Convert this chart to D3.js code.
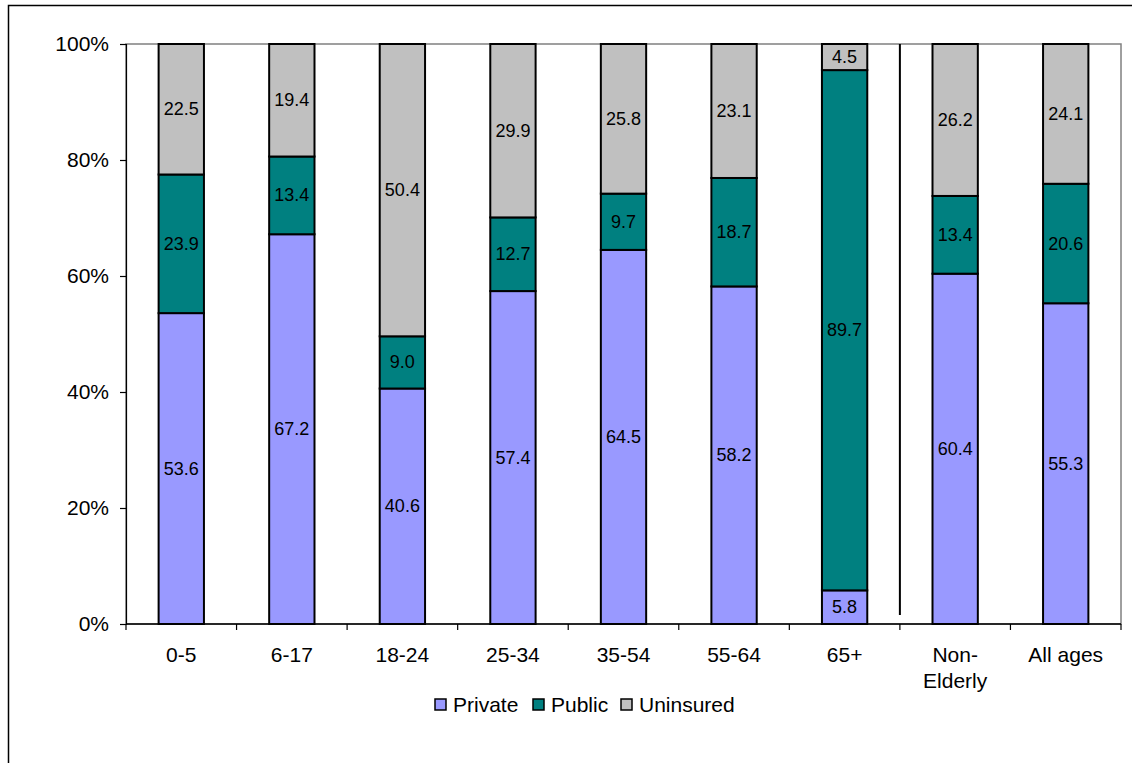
<!DOCTYPE html>
<html><head><meta charset="utf-8">
<script src="https://cdn.jsdelivr.net/npm/d3@7"></script>
<style>body{margin:0;background:#fff}svg{display:block;font-family:"Liberation Sans",Arial,sans-serif}</style>
</head><body>
<script>
const categories = ["0-5","6-17","18-24","25-34","35-54","55-64","65+","Non-Elderly","All ages"];
const privateVals = [53.6,67.2,40.6,57.4,64.5,58.2,5.8,60.4,55.3];
const publicVals = [23.9,13.4,9.0,12.7,9.7,18.7,89.7,13.4,20.6];
const uninsuredVals = [22.5,19.4,50.4,29.9,25.8,23.1,4.5,26.2,24.1];
const seriesNames = ["Private","Public","Uninsured"];
const colors = ["#9999FF","#008080","#C0C0C0"];
const yTicks = [0,20,40,60,80,100];

(function(){
const W=1132,H=763;
const FF="Liberation Sans, Arial, sans-serif";
const svg=d3.select("body").append("svg").attr("width",W).attr("height",H);
svg.append("rect").attr("x",8.5).attr("y",5.5).attr("width",W+20).attr("height",H+20).attr("fill","none").attr("stroke","#000").attr("stroke-width",1.5);

const pL=126,pR=1121,pT=44,pB=624;
const x=d3.scaleBand().domain(categories).range([pL,pR]).paddingInner(0.59).paddingOuter(0.295);
const y=d3.scaleLinear().domain([0,100]).range([pB,pT]);
const step=x.step();

svg.append("rect").attr("x",pL).attr("y",pT).attr("width",pR-pL).attr("height",pB-pT).attr("fill","none").attr("stroke","#808080").attr("stroke-width",1.5);

const table=categories.map((c,i)=>({cat:c,Private:privateVals[i],Public:publicVals[i],Uninsured:uninsuredVals[i]}));
const stack=d3.stack().keys(seriesNames)(table);

const g=svg.append("g");
stack.forEach((s,si)=>{
  s.forEach(d=>{
    g.append("rect").attr("x",x(d.data.cat)).attr("width",x.bandwidth())
     .attr("y",y(d[1])).attr("height",y(d[0])-y(d[1]))
     .attr("fill",colors[si]).attr("stroke","#000").attr("stroke-width",2);
  });
});
stack.forEach((s,si)=>{
  s.forEach(d=>{
    const v=d[1]-d[0];
    g.append("text").attr("x",x(d.data.cat)+x.bandwidth()/2).attr("y",(y(d[0])+y(d[1]))/2)
     .attr("text-anchor","middle").attr("dominant-baseline","central").attr("font-size",18).attr("font-family",FF).attr("fill","#000")
     .text(v.toFixed(1));
  });
});

const sepX = x("Non-Elderly") - step*x.paddingInner()/2;
svg.append("line").attr("x1",sepX).attr("x2",sepX).attr("y1",pT).attr("y2",615).attr("stroke","#000").attr("stroke-width",2);

const yAxis=d3.axisLeft(y).tickValues(yTicks).tickFormat(d=>d+"%").tickSize(6).tickPadding(11);
const ya=svg.append("g").attr("transform",`translate(${pL},0)`).call(yAxis);
ya.select(".domain").attr("stroke","#000").attr("stroke-width",1.2);
ya.selectAll(".tick line").attr("stroke","#000").attr("stroke-width",1.2);
ya.selectAll("text").attr("font-size",21).attr("font-family",FF).attr("fill","#000");

svg.append("line").attr("x1",pL).attr("x2",pR).attr("y1",pB).attr("y2",pB).attr("stroke","#000").attr("stroke-width",1.5);
const bounds=categories.map(c=>x(c)-step*x.paddingInner()/2).concat([pR]);
bounds.forEach(b=>svg.append("line").attr("x1",b).attr("x2",b).attr("y1",pB).attr("y2",pB+6).attr("stroke","#000").attr("stroke-width",1.2));
categories.forEach(c=>{
  const cx=x(c)+x.bandwidth()/2;
  const lines=c==="Non-Elderly"?["Non-","Elderly"]:[c];
  const t=svg.append("text").attr("x",cx).attr("y",662).attr("text-anchor","middle").attr("font-size",21).attr("font-family",FF).attr("fill","#000");
  lines.forEach((l,i)=>t.append("tspan").attr("x",cx).attr("dy",i?26:0).text(l));
});

const legX=[435,533,621];
seriesNames.forEach((n,i)=>{
  svg.append("rect").attr("x",legX[i]).attr("y",699).attr("width",11).attr("height",11).attr("fill",colors[i]).attr("stroke","#000").attr("stroke-width",1.5);
  svg.append("text").attr("x",legX[i]+18).attr("y",712).attr("font-size",21).attr("font-family",FF).attr("fill","#000").text(n);
});
})();
</script>
</body></html>
